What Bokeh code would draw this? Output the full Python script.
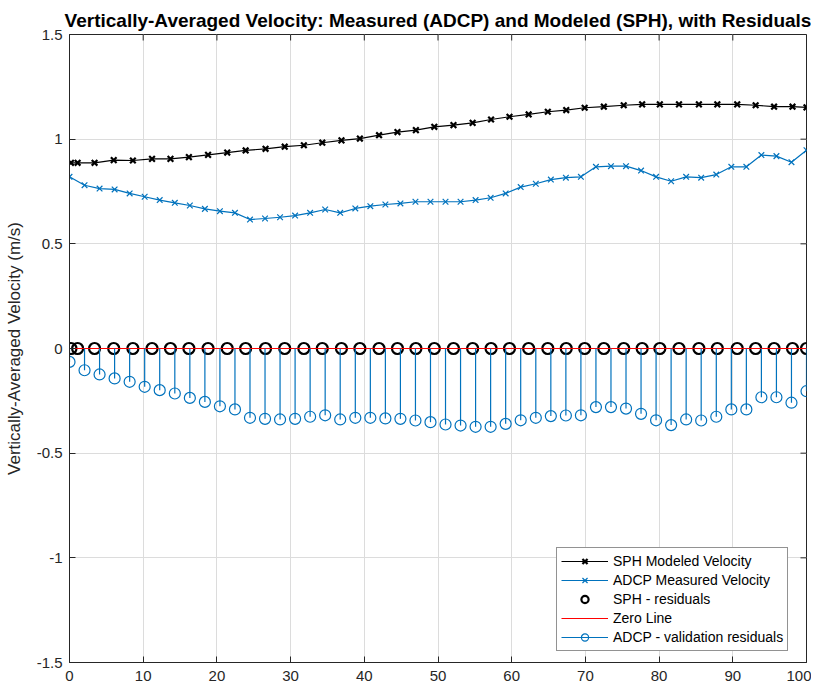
import math
from bokeh.plotting import figure
from bokeh.models import Range1d, FixedTicker, Legend, LegendItem
from bokeh.embed import file_html
from bokeh.resources import INLINE

# ---------------- data ----------------
title_text = "Vertically-Averaged Velocity: Measured (ADCP) and Modeled (SPH), with Residuals"
y_label = "Vertically-Averaged Velocity (m/s)"

x_min, x_max = 0, 100
y_min, y_max = -1.5, 1.5
x_tick_values = [0, 10, 20, 30, 40, 50, 60, 70, 80, 90, 100]
x_tick_labels = ["0", "10", "20", "30", "40", "50", "60", "70", "80", "90", "100"]
y_tick_values = [-1.5, -1, -0.5, 0, 0.5, 1, 1.5]
y_tick_labels = ["-1.5", "-1", "-0.5", "0", "0.5", "1", "1.5"]

sph_x = [0.2, 1.1, 3.4, 6.0, 8.6, 11.2, 13.7, 16.2, 18.8, 21.4, 23.9,
         26.6, 29.2, 31.8, 34.3, 36.9, 39.4, 42.0, 44.5, 47.0,
         49.5, 52.1, 54.7, 57.2, 59.7, 62.3, 64.9, 67.4, 69.9, 72.5,
         75.2, 77.7, 80.1, 82.7, 85.4, 87.9, 90.6, 93.1, 95.6, 98.1, 100.0]
sph_v = [0.887, 0.887, 0.887, 0.900, 0.898, 0.906, 0.906, 0.914, 0.925, 0.936, 0.946,
         0.954, 0.964, 0.971, 0.983, 0.994, 1.003, 1.019, 1.034, 1.043,
         1.059, 1.067, 1.078, 1.094, 1.107, 1.118, 1.131, 1.139, 1.150, 1.155,
         1.162, 1.166, 1.166, 1.166, 1.166, 1.166, 1.166, 1.162, 1.155, 1.155, 1.152]
sph_resid = [0.0] * 41

adcp_x = [0, 2.04, 4.08, 6.12, 8.16, 10.2, 12.24, 14.29, 16.33, 18.37,
          20.41, 22.45, 24.49, 26.53, 28.57, 30.61, 32.65, 34.69, 36.73, 38.78,
          40.82, 42.86, 44.9, 46.94, 48.98, 51.02, 53.06, 55.1, 57.14, 59.18,
          61.22, 63.27, 65.31, 67.35, 69.39, 71.43, 73.47, 75.51, 77.55, 79.59,
          81.63, 83.67, 85.71, 87.76, 89.8, 91.84, 93.88, 95.92, 97.96, 100]
adcp_v = [0.820, 0.780, 0.764, 0.760, 0.741, 0.725, 0.709, 0.696, 0.683, 0.667,
          0.656, 0.648, 0.616, 0.621, 0.627, 0.635, 0.648,
          0.664, 0.648, 0.669, 0.680, 0.688, 0.693, 0.701, 0.701, 0.701,
          0.701, 0.709, 0.720, 0.741, 0.771, 0.787, 0.807,
          0.816, 0.820, 0.868, 0.871, 0.871, 0.850, 0.820, 0.799, 0.820,
          0.816, 0.831, 0.868, 0.868, 0.924, 0.919, 0.890, 0.947]
adcp_resid = [-0.064, -0.104, -0.124, -0.143, -0.159, -0.183, -0.199, -0.215, -0.236, -0.255,
              -0.276, -0.291, -0.331, -0.336, -0.339, -0.336, -0.326,
              -0.319, -0.339, -0.331, -0.331, -0.334, -0.336, -0.344, -0.352, -0.363,
              -0.368, -0.374, -0.374, -0.360, -0.343, -0.331, -0.323,
              -0.320, -0.319, -0.280, -0.280, -0.287, -0.312, -0.343, -0.366, -0.339,
              -0.344, -0.326, -0.291, -0.291, -0.233, -0.233, -0.259, -0.204]
adcp_zero = [0.0] * 50
zero_x = [0, 100]
zero_y = [0, 0]

# ---------------- style ----------------
BLUE = "#0072BD"
AX = "#262626"
FONT = "Liberation Sans"

p = figure(frame_width=737, frame_height=628,
           min_border_left=69, min_border_right=5, min_border_top=34, min_border_bottom=20,
           x_range=Range1d(x_min, x_max), y_range=Range1d(y_min, y_max),
           output_backend="svg", toolbar_location=None,
           background_fill_color="white", border_fill_color="white")

p.title.text = title_text
p.title.align = "center"
p.title.text_font = FONT
p.title.text_font_size = "19px"
p.title.text_font_style = "bold"
p.title.text_color = "black"
p.title.standoff = 7

p.outline_line_color = AX
p.outline_line_width = 1

p.xaxis.ticker = FixedTicker(ticks=x_tick_values)
p.yaxis.ticker = FixedTicker(ticks=y_tick_values)
p.xaxis.major_label_overrides = dict(zip(x_tick_values, x_tick_labels))
p.yaxis.major_label_overrides = dict(zip(y_tick_values, y_tick_labels))

for ax in (p.xaxis[0], p.yaxis[0]):
    ax.major_tick_in = 6
    ax.major_tick_out = 0
    ax.minor_tick_in = 0
    ax.minor_tick_out = 0
    ax.axis_line_color = AX
    ax.major_tick_line_color = AX
    ax.major_label_text_font = FONT
    ax.major_label_text_font_size = "15px"
    ax.major_label_text_color = AX
    ax.major_label_standoff = 7
p.xaxis.major_label_standoff = 8

p.yaxis.axis_label = y_label
p.yaxis.axis_label_text_font = FONT
p.yaxis.axis_label_text_font_size = "17px"
p.yaxis.axis_label_text_font_style = "normal"
p.yaxis.axis_label_text_color = AX
p.yaxis.axis_label_standoff = 10

p.xgrid.grid_line_color = "#dcdcdc"
p.ygrid.grid_line_color = "#dcdcdc"

# inward ticks on top and right edges of the box
p.ray(x=x_tick_values, y=[y_max] * len(x_tick_values), length=6, length_units="screen",
      angle=-math.pi / 2, line_color=AX, line_width=1)
p.ray(x=[x_max] * len(y_tick_values), y=y_tick_values, length=6, length_units="screen",
      angle=math.pi, line_color=AX, line_width=1)

# ---------------- glyphs ----------------
r1l = p.line(sph_x, sph_v, line_color="black", line_width=1.2)
r1m = p.scatter(sph_x, sph_v, marker="x", size=8, line_color="black", line_width=2.2)

r2l = p.line(adcp_x, adcp_v, line_color=BLUE, line_width=1.2)
r2m = p.scatter(adcp_x, adcp_v, marker="x", size=8, line_color=BLUE, line_width=1.2)

r3 = p.scatter(sph_x, sph_resid, marker="circle", size=11, fill_color=None,
               line_color="black", line_width=2.2)

r4 = p.line(zero_x, zero_y, line_color="red", line_width=1.2)

r5s = p.segment(adcp_x, adcp_zero, adcp_x, adcp_resid, line_color=BLUE, line_width=1.2)
r5m = p.scatter(adcp_x, adcp_resid, marker="circle", size=11, fill_color=None,
                line_color=BLUE, line_width=1.2)

legend = Legend(items=[
    LegendItem(label="SPH Modeled Velocity", renderers=[r1l, r1m]),
    LegendItem(label="ADCP Measured Velocity", renderers=[r2l, r2m]),
    LegendItem(label="SPH - residuals", renderers=[r3]),
    LegendItem(label="Zero Line", renderers=[r4]),
    LegendItem(label="ADCP - validation residuals", renderers=[r5s, r5m]),
], location=(487, 11))
legend.label_text_font = FONT
legend.label_text_font_size = "14px"
legend.label_text_color = "black"
legend.glyph_width = 47
legend.glyph_height = 18
legend.label_height = 18
legend.label_standoff = 5
legend.spacing = 1
legend.padding = 4
legend.margin = 0
legend.border_line_color = AX
legend.border_line_width = 1
legend.background_fill_color = "white"
legend.background_fill_alpha = 1
p.add_layout(legend, "center")

open("out.html", "w").write(file_html(p, INLINE))
